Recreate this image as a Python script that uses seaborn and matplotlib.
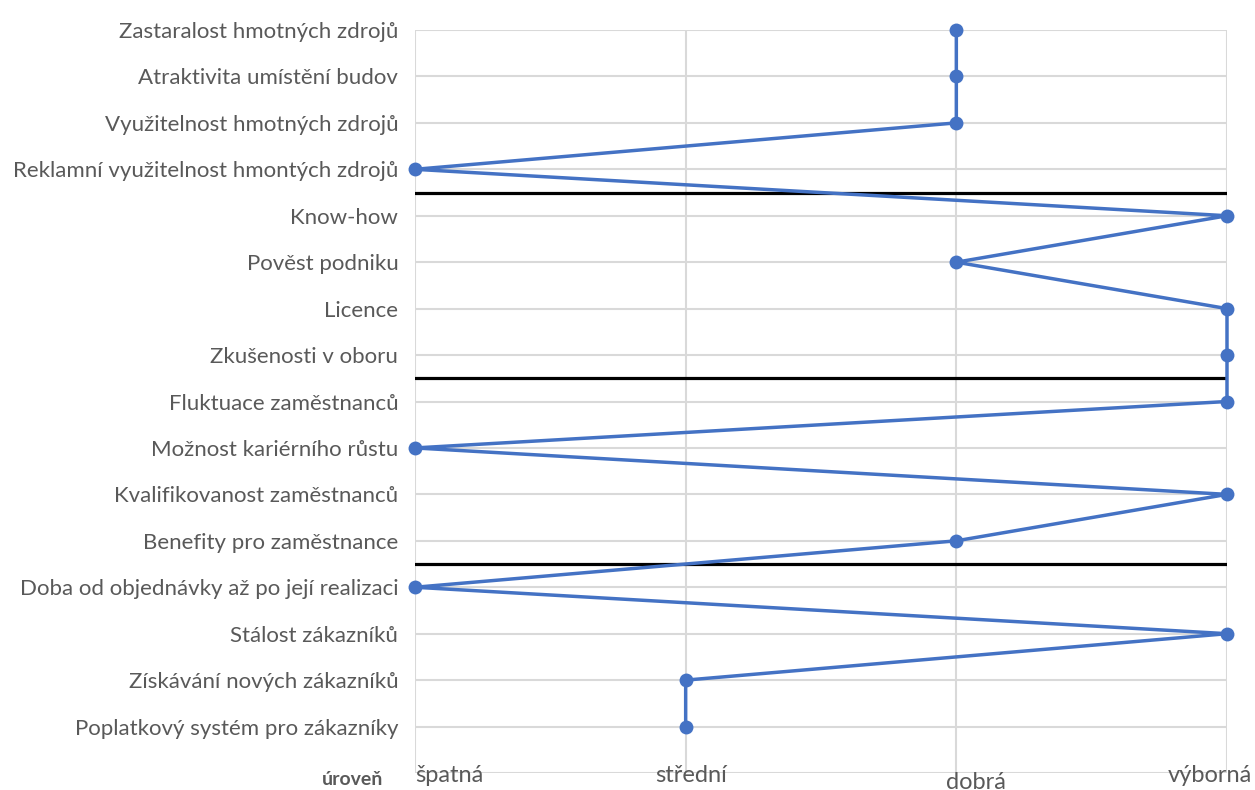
import numpy as np
import pandas as pd
import matplotlib.pyplot as plt
import seaborn as sns


# -----------------------------
# Data
# -----------------------------
FACTORS = [
    "Zastaralost hmotných zdrojů",
    "Atraktivita umístění budov",
    "Využitelnost hmotných zdrojů",
    "Reklamní využitelnost hmontých zdrojů",
    "Know-how",
    "Pověst podniku",
    "Licence",
    "Zkušenosti v oboru",
    "Fluktuace zaměstnanců",
    "Možnost kariérního růstu",
    "Kvalifikovanost zaměstnanců",
    "Benefity pro zaměstnance",
    "Doba od objednávky až po její realizaci",
    "Stálost zákazníků",
    "Získávání nových zákazníků",
    "Poplatkový systém pro zákazníky",
]
LEVELS = ["špatná", "střední", "dobrá", "výborná"]
RATINGS = [
    "dobrá", "dobrá", "dobrá", "špatná",
    "výborná", "dobrá", "výborná", "výborná",
    "výborná", "špatná", "výborná", "dobrá",
    "špatná", "výborná", "střední", "střední",
]
GROUP_SIZES = [4, 4, 4, 4]
AXIS_TITLE = "úroveň"

LINE_COLOR = "#4472C4"
GRID_COLOR = "#d9d9d9"
TEXT_COLOR = "#595959"


# -----------------------------
# Prepare
# -----------------------------
df = pd.DataFrame({"faktor": FACTORS, "uroven": RATINGS})
df["pozice"] = np.arange(len(df))
df["skore"] = df["uroven"].map({lvl: i for i, lvl in enumerate(LEVELS)})

sns.set_theme(style="white")
plt.rcParams["font.family"] = ["Lato", "DejaVu Sans"]

fig = plt.figure(figsize=(12.55, 7.9), dpi=100)
ax = fig.add_axes([415 / 1255, 17 / 790, 812 / 1255, 743 / 790])

# -----------------------------
# Plot
# -----------------------------
sns.lineplot(
    data=df, x="skore", y="pozice",
    sort=False, orient="y", estimator=None,
    marker="o", color=LINE_COLOR, linewidth=2.5,
    markersize=10, markeredgewidth=0,
    clip_on=False, zorder=4, ax=ax,
)

# separators between factor groups
for b in np.cumsum(GROUP_SIZES)[:-1] - 0.5:
    ax.axhline(b, color="black", linewidth=2.3, zorder=3)

ax.set_xlim(0, len(LEVELS) - 1)
ax.set_ylim(len(FACTORS), 0)
ax.set_xticks(range(len(LEVELS)))
ax.set_yticks(range(len(FACTORS) + 1))
ax.set_yticklabels(FACTORS + [""], fontsize=16, color=TEXT_COLOR)
ax.set_xticklabels([])
ax.tick_params(axis="both", length=0)
ax.tick_params(axis="y", pad=12)
ax.grid(True, color=GRID_COLOR, linewidth=1.5)
ax.set_axisbelow(True)
for s in ax.spines.values():
    s.set_visible(False)
ax.set_xlabel("")
ax.set_ylabel("")

# x labels, placed like the original sheet
x_label_style = [
    ("left", 0, -1.5),
    ("center", 4, -1.5),
    ("center", 14, -6.5),
    ("right", 18, -1.5),
]
for i, (lvl, (ha, dx, dy)) in enumerate(zip(LEVELS, x_label_style)):
    ax.annotate(lvl, xy=(i, 0), xycoords=("data", "axes fraction"),
                xytext=(dx, dy), textcoords="offset points",
                ha=ha, va="center", fontsize=17, color=TEXT_COLOR,
                annotation_clip=False)

ax.annotate(AXIS_TITLE, xy=(0, 0), xycoords=("data", "axes fraction"),
            xytext=(-23, -5), textcoords="offset points",
            ha="right", va="center", fontsize=14, fontweight="bold",
            color=TEXT_COLOR, annotation_clip=False)

fig.savefig("out.png", dpi=100)
